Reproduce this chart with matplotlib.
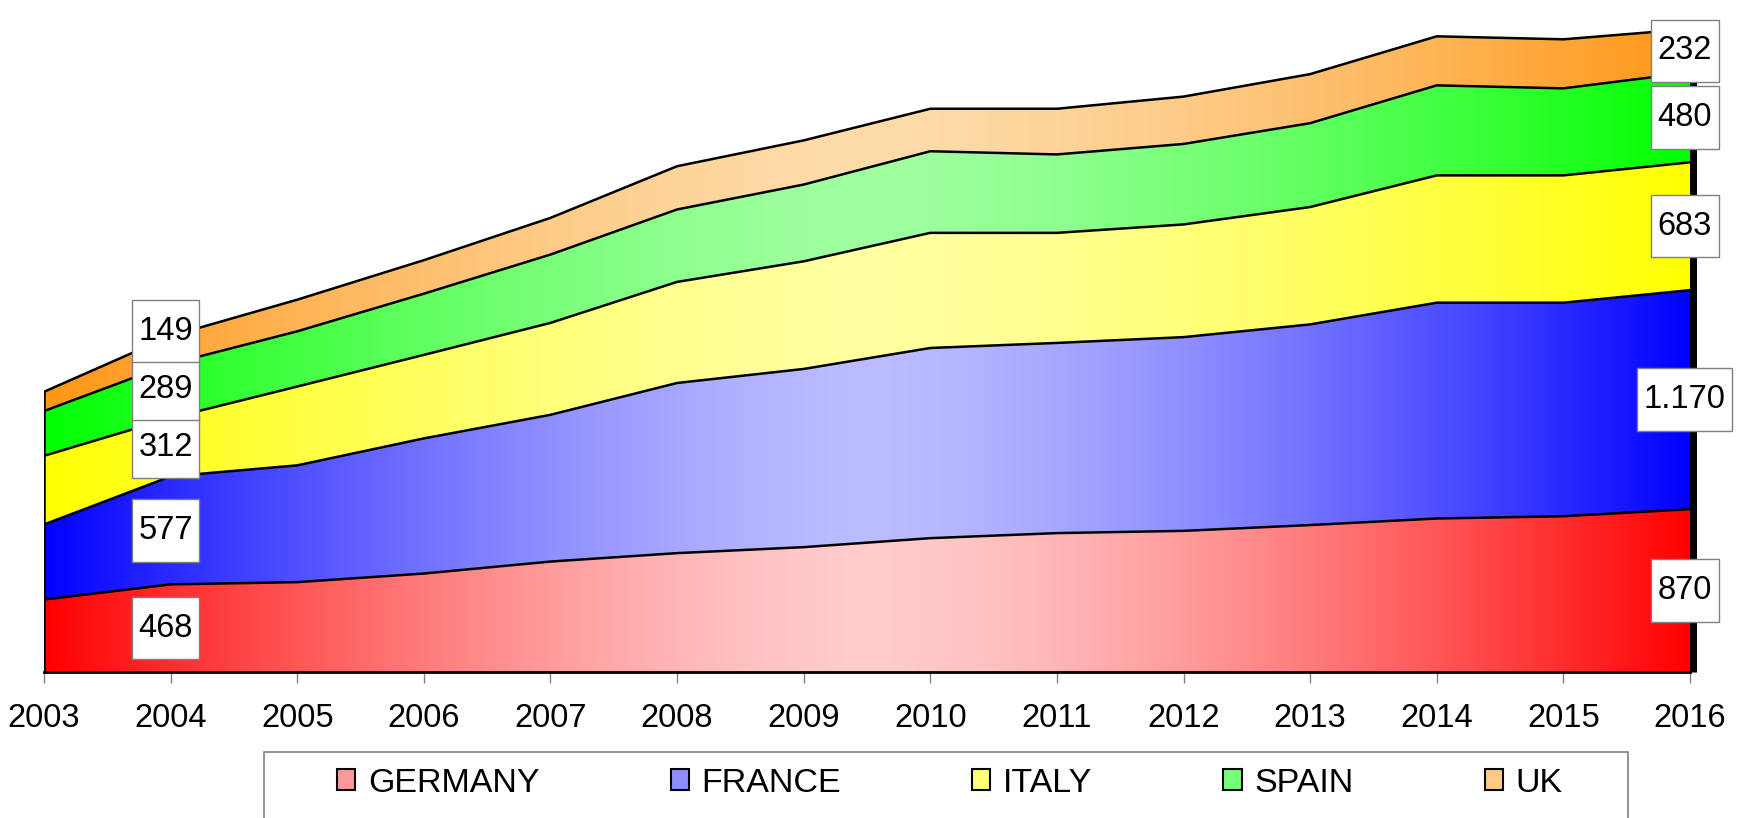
import numpy as np
import matplotlib.pyplot as plt
from matplotlib.patches import Polygon, Patch, Rectangle
from matplotlib.path import Path
from matplotlib.colors import to_rgb
from matplotlib.transforms import offset_copy

years = list(range(2003, 2017))
germany = [387, 468, 480, 526, 590, 635, 667, 715, 742, 754, 785, 820, 832, 870]
france = [401, 577, 624, 722, 784, 909, 952, 1016, 1016, 1035, 1072, 1153, 1141, 1170]
italy = [367, 312, 421, 446, 491, 540, 575, 615, 588, 602, 627, 680, 680, 683]
spain = [239, 289, 295, 327, 365, 387, 410, 436, 419, 430, 448, 481, 465, 480]
uk = [103, 149, 169, 179, 196, 231, 236, 227, 244, 253, 262, 262, 262, 232]
names = ['GERMANY', 'FRANCE', 'ITALY', 'SPAIN', 'UK']
label_years = [2004, 2016]

# gradient: strong colour at both ends, pale in the middle
edge_colors = ['#ff0000', '#0000ff', '#ffff00', '#00ff00', '#ff9615']
mid_colors = ['#ffcccc', '#bcbcff', '#ffffa0', '#a0ffa0', '#fddcaa']


def label_box(x0, y0, width, height, mutation_size):
    # narrow sides, tall top/bottom like the excel data labels
    padx = 0.2 * mutation_size
    pady = 0.48 * mutation_size
    left, bottom = x0 - padx, y0 - pady
    right, top = x0 + width + padx, y0 + height + pady
    return Path([(left, bottom), (right, bottom), (right, top), (left, top), (left, bottom)],
                closed=True)


def main():
    plt.rcParams['font.family'] = ['Liberation Sans', 'DejaVu Sans']
    fig = plt.figure(figsize=(17.39, 8.18), dpi=100)
    ax = fig.add_axes([44 / 1739, 1 - 672 / 818, (1690 - 44) / 1739, 672 / 818])
    ymax = 3590

    x = np.array(years)
    series = [germany, france, italy, spain, uk]
    gx = np.abs(np.linspace(-1, 1, 600)) ** 1.5
    bottom = np.zeros(len(x))
    tops = []
    for i, vals in enumerate(series):
        top = bottom + np.array(vals)
        verts = np.column_stack([np.r_[x, x[::-1]], np.r_[top, bottom[::-1]]])
        poly = Polygon(verts, closed=True, facecolor='none', edgecolor='none')
        ax.add_patch(poly)
        c0 = np.array(to_rgb(mid_colors[i]))
        c1 = np.array(to_rgb(edge_colors[i]))
        img = c0 + (c1 - c0) * gx[:, None]
        ax.imshow(img[None, :, :], extent=[2003, 2016, 0, ymax], aspect='auto',
                  clip_path=poly, zorder=1, interpolation='bilinear')
        ax.plot(x, top, color='black', lw=1.8, zorder=3)
        tops.append(top)
        bottom = top

    ax.plot([2003, 2003], [0, tops[-1][0]], color='black', lw=1.8, zorder=3)
    shifted = offset_copy(ax.transData, fig=fig, x=3, y=0, units='dots')
    ax.plot([2016, 2016], [0, tops[3][-1]], color='black', lw=5, clip_on=False,
            solid_capstyle='butt', transform=shifted, zorder=3)

    # labels sit in the middle of each band, pushed up a bit if they would overlap
    min_gap = 310
    for yr in label_years:
        j = years.index(yr)
        base = 0
        prev = None
        for vals in series:
            v = vals[j]
            yc = base + v / 2
            if prev is not None and yc - prev < min_gap:
                yc = prev + min_gap
            prev = yc
            txt = f'{v:,}'.replace(',', '.')
            ax.text(yr - 0.04, yc, txt, ha='center', va='center',
                    fontsize=23.5, zorder=5, clip_on=False,
                    bbox=dict(boxstyle=label_box, fc='white', ec='#808080', lw=1))
            base += v

    ax.set_xlim(2003, 2016)
    ax.set_ylim(0, ymax)
    ax.set_xticks(years)
    ax.set_yticks([])
    ax.tick_params(axis='x', length=8, width=1, color='#808080', labelsize=23.5, pad=14)
    for s in ['left', 'top', 'right']:
        ax.spines[s].set_visible(False)
    ax.spines['bottom'].set_linewidth(2)
    ax.spines['bottom'].set_zorder(4)

    leg_cols = [np.array(to_rgb(m)) + (np.array(to_rgb(e)) - np.array(to_rgb(m))) * 0.25
                for m, e in zip(mid_colors, edge_colors)]
    handles = [Patch(facecolor=c, edgecolor='black', lw=1.5) for c in leg_cols]
    fig.legend(handles, names, loc='center', bbox_to_anchor=(950 / 1739, 1 - 783 / 818),
               ncol=5, frameon=False, fontsize=24.5, columnspacing=3.85,
               handlelength=0.53, handleheight=0.6, handletextpad=0.38)
    fig.add_artist(Rectangle((264 / 1739, -0.02), (1628 - 264) / 1739, 0.0807 + 0.02,
                             transform=fig.transFigure, fill=False, ec='#808080', lw=1.2))

    fig.savefig('out.png', dpi=100)


if __name__ == '__main__':
    main()
